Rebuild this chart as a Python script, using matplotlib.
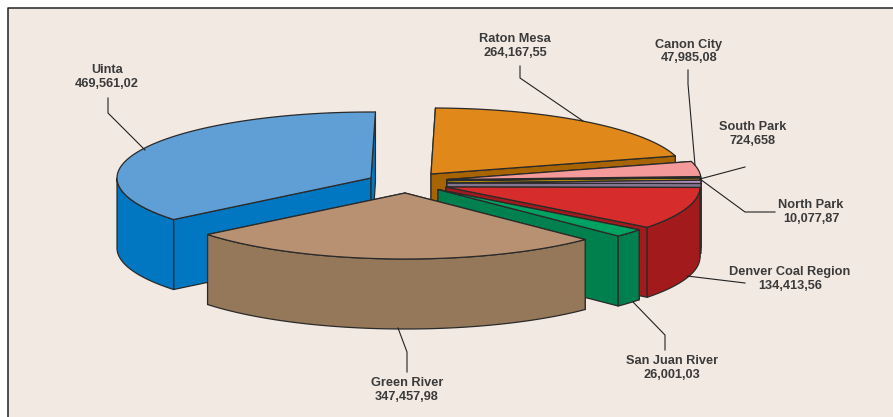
import numpy as np
import matplotlib
matplotlib.use("Agg")
import matplotlib.pyplot as plt
from matplotlib.patches import Polygon

# ---- data ----
categories = ["Raton Mesa", "Canon City", "South Park", "North Park",
              "Denver Coal Region", "San Juan River", "Green River", "Uinta"]
values = [264167.55, 47985.08, 724.658, 10077.87,
          134413.56, 26001.03, 347457.98, 469561.02]
value_labels = ["264,167,55", "47,985,08", "724,658", "10,077,87",
                "134,413,56", "26,001,03", "347,457,98", "469,561,02"]

# ---- style / layout ----
top_colors = ["#e0881a", "#f59a9a", "#f7c51e", "#b48fc2", "#d62c2b", "#00a262", "#b89172", "#5f9fd6"]
side_colors = ["#a86400", "#c47878", "#b08a10", "#85768f", "#a31a1c", "#00804c", "#95785a", "#0077c0"]
apex = [(431, 174), (447, 179.5), (447, 180.5), (447, 183), (446, 187), (438, 189.5), (405, 193), (371, 178)]
draw_order = [0, 7, 1, 2, 3, 4, 5, 6]
label_xy = [(515, 46), (689, 51.5), (753, 134), (811, 212), (790, 279), (672, 368), (407, 390), (107, 77)]
leaders = [[(520, 66), (520, 78), (583, 121)],
           [(688, 70), (688, 84), (695, 165)],
           [(745, 167), (700, 179)],
           [(775, 212), (745, 212), (700, 179)],
           [(745, 283), (687, 276)],
           [(665, 350), (665, 335), (633, 302)],
           [(407, 372), (407, 352), (398, 328)],
           [(108, 98), (108, 113), (145, 150)]]
RX, RY, DEPTH = 254, 66, 70
START = 89.0
BG = "#f2e9e3"
EDGE = "#2a2a2a"
LW = 0.9

plt.rcParams["font.family"] = ["Liberation Sans", "DejaVu Sans"]
fig = plt.figure(figsize=(8.93, 4.17), dpi=100, facecolor="white")
ax = fig.add_axes([0, 0, 1, 1])
ax.set_xlim(0, 893)
ax.set_ylim(417, 0)
ax.axis("off")

# panel background with frame on top and left
ax.add_patch(Polygon([(8, 8), (893, 8), (893, 417), (8, 417)], closed=True, fc=BG, ec="none", zorder=0))
ax.plot([7.5, 7.5, 893], [417, 7.5, 7.5], color="#222222", lw=1.1, zorder=1)

# ---- wedge angles from the values ----
sweep = 360.0 * np.array(values) / np.sum(values)
ends = START - np.cumsum(sweep)
starts = ends + sweep


def point(c, deg):
    a = np.radians(deg)
    return c[0] + RX * np.cos(a), c[1] - RY * np.sin(a)


z = 2
for i in draw_order:
    c = apex[i]
    a0, a1 = starts[i], ends[i]
    angs = np.linspace(a0, a1, max(int(abs(a0 - a1) * 2), 2) + 1)
    arc = np.array([point(c, a) for a in angs])
    down = np.array([0, DEPTH])
    # radial side faces
    for a in (a0, a1):
        p = np.array(point(c, a))
        ax.add_patch(Polygon([c, p, p + down, np.array(c) + down], closed=True,
                             fc=side_colors[i], ec=EDGE, lw=LW, zorder=z, joinstyle="round"))
    # outer curved face (only the part turned to the viewer)
    sn = np.sin(np.radians(angs))
    front = arc[sn <= 0.0]
    if len(front) > 1:
        poly = np.vstack([front, (front + down)[::-1]])
        ax.add_patch(Polygon(poly, closed=True, fc=side_colors[i], ec=EDGE, lw=LW, zorder=z, joinstyle="round"))
    # top face
    ax.add_patch(Polygon(np.vstack([[c], arc]), closed=True, fc=top_colors[i], ec=EDGE, lw=LW,
                         zorder=z, joinstyle="round"))
    z += 1

# ---- labels and leaders ----
for name, val, xy, path in zip(categories, value_labels, label_xy, leaders):
    xs, ys = zip(*path)
    ax.plot(xs, ys, color="#222222", lw=0.8, zorder=30)
    ax.text(xy[0], xy[1], f"{name}\n{val}", ha="center", va="center", fontsize=9.2, fontweight="bold",
            color="#3a3a3a", linespacing=1.22, zorder=31)

fig.savefig("out.png", dpi=100, facecolor="white")
